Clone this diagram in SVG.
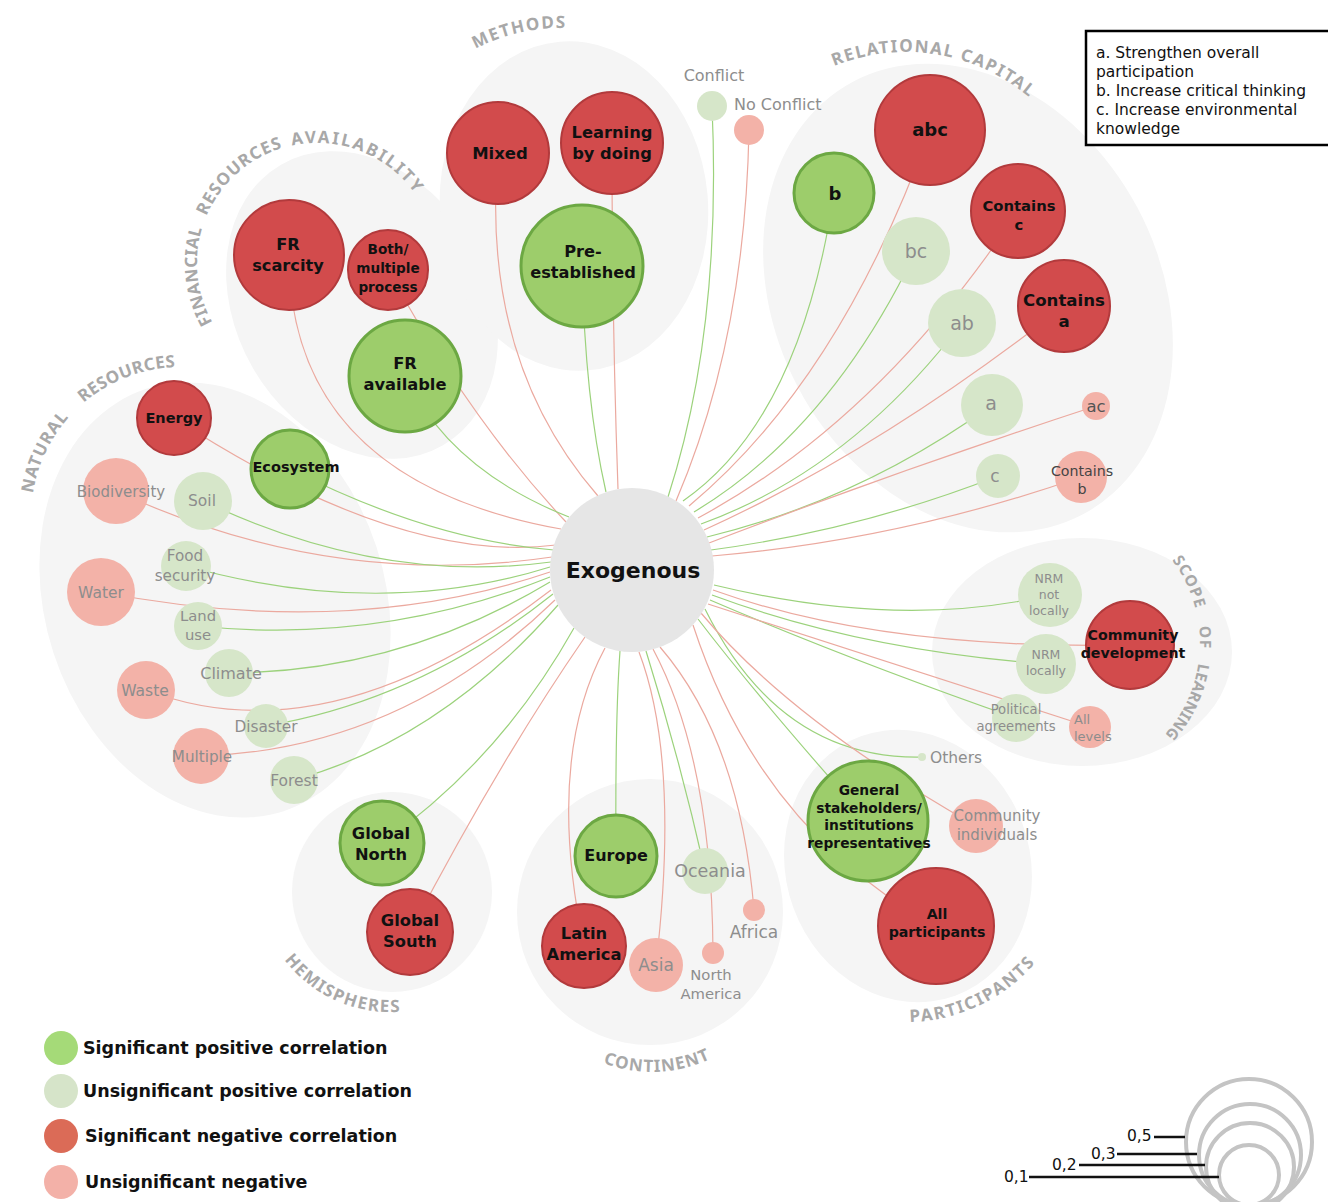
<svg xmlns="http://www.w3.org/2000/svg" width="1328" height="1202" viewBox="0 0 1328 1202">
<style>
.bg{fill:#f5f5f5}
.sp{fill:#9dcd6b;stroke:#6ca843;stroke-width:3}
.up{fill:#d6e6c9}
.sn{fill:#d24b4c;stroke:#b23a3c;stroke-width:2}
.un{fill:#f3b2a8}
.lg{fill:none;stroke:#9cd27c;stroke-width:1.2}
.lr{fill:none;stroke:#eba99f;stroke-width:1.2}
.t1{font-family:"DejaVu Sans","Noto Sans",sans-serif;font-weight:bold;fill:#111;text-anchor:middle}
.t2{font-family:"DejaVu Sans","Noto Sans",sans-serif;fill:#8d8d8d;text-anchor:middle}
.cat{font-family:"Noto Sans","Open Sans",sans-serif;font-weight:bold;fill:#a8a8a8;font-size:17px}
.lgd{font-family:"DejaVu Sans",sans-serif;font-weight:bold;font-size:17.5px;fill:#111}
.key{font-family:"DejaVu Sans",sans-serif;font-size:15.5px;fill:#111}
.sc{fill:none;stroke:#c4c4c4;stroke-width:4}
.tick{stroke:#111;stroke-width:2.5}
</style>
<defs>
<path id="pNR1" d="M32.8,493.5 A150,150 0 0 1 69.5,416.6"/>
<path id="pNR2" d="M83.6,402.9 A150,150 0 0 1 175.8,367.1"/>
<path id="pFR1" d="M212.6,322.3 A120,120 0 0 1 202.9,225.9"/>
<path id="pFR2" d="M206.5,216.1 A120,120 0 0 1 283.9,147.6"/>
<path id="pFR3" d="M292.1,145.6 A120,120 0 0 1 415.6,194.5"/>
<path id="pME" d="M475.4,48.9 A182,182 0 0 1 566,28.1"/>
<path id="pRC" d="M834.2,66.1 A190,190 0 0 1 1029.9,98"/>
<path id="pSL1" d="M1172,560 A137,137 0 0 1 1195.9,609.9"/>
<path id="pSL2" d="M1199,626.3 A137,137 0 0 1 1199.8,650.2"/>
<path id="pSL3" d="M1198.5,663.2 A137,137 0 0 1 1164.3,735.2"/>
<path id="pPA" d="M909.9,1022 A171,171 0 0 0 1036,962"/>
<path id="pCO" d="M603.1,1063 A137,137 0 0 0 712.1,1058.1"/>
<path id="pHE" d="M284.3,959.8 A133,133 0 0 0 402,1011.5"/>
</defs>
<rect width="1328" height="1202" fill="#fff"/>

<g id="groups">
<ellipse class="bg" cx="215" cy="600" rx="170" ry="222" transform="rotate(-18 215 600)"/>
<ellipse class="bg" cx="362" cy="305" rx="126" ry="162" transform="rotate(-30 362 305)"/>
<ellipse class="bg" cx="574" cy="206" rx="134" ry="165" transform="rotate(-5 574 206)"/>
<ellipse class="bg" cx="968" cy="298" rx="192" ry="245" transform="rotate(-28 968 298)"/>
<ellipse class="bg" cx="1082" cy="652" rx="150" ry="114"/>
<ellipse class="bg" cx="908" cy="866" rx="122" ry="138" transform="rotate(-20 908 866)"/>
<circle class="bg" cx="650" cy="912" r="133"/>
<circle class="bg" cx="392" cy="892" r="100"/>
</g>

<g id="category-labels" class="cat">
<text><textPath href="#pNR1" textLength="85" lengthAdjust="spacing">NATURAL</textPath></text>
<text><textPath href="#pNR2" textLength="100" lengthAdjust="spacing">RESOURCES</textPath></text>
<text><textPath href="#pFR1" textLength="97" lengthAdjust="spacing">FINANCIAL</textPath></text>
<text><textPath href="#pFR2" textLength="105" lengthAdjust="spacing">RESOURCES</textPath></text>
<text><textPath href="#pFR3" textLength="139" lengthAdjust="spacing">AVAILABILITY</textPath></text>
<text><textPath href="#pME" textLength="93" lengthAdjust="spacing">METHODS</textPath></text>
<text><textPath href="#pRC" textLength="207" lengthAdjust="spacing">RELATIONAL CAPITAL</textPath></text>
<text style="font-size:15.5px"><textPath href="#pSL1" textLength="54" lengthAdjust="spacing">SCOPE</textPath></text>
<text style="font-size:15.5px"><textPath href="#pSL2" textLength="22" lengthAdjust="spacing">OF</textPath></text>
<text style="font-size:15.5px"><textPath href="#pSL3" textLength="80" lengthAdjust="spacing">LEARNING</textPath></text>
<text><textPath href="#pPA" textLength="142" lengthAdjust="spacing">PARTICIPANTS</textPath></text>
<text><textPath href="#pCO" textLength="110" lengthAdjust="spacing">CONTINENT</textPath></text>
<text><textPath href="#pHE" textLength="132" lengthAdjust="spacing">HEMISPHERES</textPath></text>
</g>

<g id="connectors">
<path class="lr" d="M174,418 Q400,565 556,545"/>
<path class="lg" d="M290,469 Q430,540 554,550"/>
<path class="lr" d="M116,491 Q330,590 552,557"/>
<path class="lg" d="M203,501 Q380,585 551,562"/>
<path class="lg" d="M186,566 Q380,620 550,567"/>
<path class="lr" d="M101,592 Q350,640 550,572"/>
<path class="lg" d="M198,626 Q380,645 550,577"/>
<path class="lg" d="M229,673 Q400,672 550,582"/>
<path class="lr" d="M146,690 Q330,760 551,590"/>
<path class="lg" d="M266,726 Q420,700 553,594"/>
<path class="lr" d="M201,756 Q400,750 555,600"/>
<path class="lg" d="M294,780 Q440,740 558,605"/>
<path class="lr" d="M289,255 Q290,480 561,529"/>
<path class="lr" d="M388,270 Q470,420 566,522"/>
<path class="lg" d="M405,376 Q450,470 569,517"/>
<path class="lr" d="M498,153 Q480,360 598,496"/>
<path class="lr" d="M612,143 Q612,320 618,489"/>
<path class="lg" d="M582,266 Q585,400 606,492"/>
<path class="lg" d="M712,106 Q722,330 668,497"/>
<path class="lr" d="M749,130 Q745,340 676,501"/>
<path class="lg" d="M834,193 Q800,420 683,501"/>
<path class="lr" d="M930,130 Q840,380 689,506"/>
<path class="lg" d="M916,251 Q830,430 694,512"/>
<path class="lr" d="M1018,211 Q880,420 698,518"/>
<path class="lg" d="M962,323 Q850,470 701,524"/>
<path class="lr" d="M1064,306 Q880,450 704,530"/>
<path class="lg" d="M992,405 Q860,500 707,537"/>
<path class="lr" d="M1096,406 Q900,470 709,543"/>
<path class="lg" d="M998,476 Q860,530 711,550"/>
<path class="lr" d="M1081,477 Q900,540 712,556"/>
<path class="lg" d="M1050,595 Q900,630 714,585"/>
<path class="lr" d="M1130,645 Q880,650 713,590"/>
<path class="lg" d="M1046,664 Q860,650 712,595"/>
<path class="lg" d="M1016,718 Q850,660 710,600"/>
<path class="lr" d="M1090,727 Q850,650 708,604"/>
<path class="lg" d="M922,757 Q780,760 705,609"/>
<path class="lg" d="M868,821 Q760,700 698,619"/>
<path class="lr" d="M976,826 Q790,720 701,613"/>
<path class="lr" d="M936,926 Q760,830 693,625"/>
<path class="lg" d="M616,856 Q615,720 620,651"/>
<path class="lr" d="M584,946 Q545,760 605,648"/>
<path class="lg" d="M705,871 Q680,760 646,651"/>
<path class="lr" d="M656,965 Q680,760 639,652"/>
<path class="lr" d="M713,953 Q712,760 653,649"/>
<path class="lr" d="M754,910 Q740,740 660,647"/>
<path class="lg" d="M382,843 Q500,760 574,628"/>
<path class="lr" d="M410,932 Q500,760 585,637"/>
</g>

<g id="natural-resources">
<g id="n-energy"><circle class="sn" cx="174" cy="418" r="37"/><text class="t1" x="174" y="423" font-size="14.5">Energy</text></g>
<g id="n-ecosystem"><circle class="sp" cx="290" cy="469" r="39"/><text class="t1" x="296" y="472" font-size="14.5">Ecosystem</text></g>
<g id="n-biodiversity"><circle class="un" cx="116" cy="491" r="33"/><text class="t2" x="121" y="497" font-size="15">Biodiversity</text></g>
<g id="n-soil"><circle class="up" cx="203" cy="501" r="29"/><text class="t2" x="202" y="506" font-size="15.5">Soil</text></g>
<g id="n-food"><circle class="up" cx="186" cy="566" r="25"/><text class="t2" font-size="15.2"><tspan x="185" y="561">Food</tspan><tspan x="185" y="581">security</tspan></text></g>
<g id="n-water"><circle class="un" cx="101" cy="592" r="34"/><text class="t2" x="101" y="598" font-size="15.5">Water</text></g>
<g id="n-landuse"><circle class="up" cx="198" cy="626" r="24"/><text class="t2" font-size="14.8"><tspan x="198" y="621">Land</tspan><tspan x="198" y="640">use</tspan></text></g>
<g id="n-climate"><circle class="up" cx="229" cy="673" r="24"/><text class="t2" x="231" y="679" font-size="16">Climate</text></g>
<g id="n-waste"><circle class="un" cx="146" cy="690" r="29"/><text class="t2" x="145" y="696" font-size="15.5">Waste</text></g>
<g id="n-disaster"><circle class="up" cx="266" cy="726" r="22"/><text class="t2" x="266" y="732" font-size="15.3">Disaster</text></g>
<g id="n-multiple"><circle class="un" cx="201" cy="756" r="28"/><text class="t2" x="202" y="762" font-size="15.2">Multiple</text></g>
<g id="n-forest"><circle class="up" cx="294" cy="780" r="24"/><text class="t2" x="294" y="786" font-size="15.5">Forest</text></g>
</g>

<g id="financial">
<g id="n-frscarcity"><circle class="sn" cx="289" cy="255" r="55"/><text class="t1" font-size="16.2"><tspan x="288" y="250">FR</tspan><tspan x="288" y="271">scarcity</tspan></text></g>
<g id="n-both"><circle class="sn" cx="388" cy="270" r="40"/><text class="t1" font-size="13.6"><tspan x="388" y="254">Both/</tspan><tspan x="388" y="273">multiple</tspan><tspan x="388" y="292">process</tspan></text></g>
<g id="n-fravailable"><circle class="sp" cx="405" cy="376" r="56"/><text class="t1" font-size="16.3"><tspan x="405" y="369">FR</tspan><tspan x="405" y="390">available</tspan></text></g>
</g>

<g id="methods">
<g id="n-mixed"><circle class="sn" cx="498" cy="153" r="51"/><text class="t1" x="500" y="159" font-size="16.5">Mixed</text></g>
<g id="n-learning"><circle class="sn" cx="612" cy="143" r="51"/><text class="t1" font-size="16.3"><tspan x="612" y="138">Learning</tspan><tspan x="612" y="159">by doing</tspan></text></g>
<g id="n-preestablished"><circle class="sp" cx="582" cy="266" r="61"/><text class="t1" font-size="16.2"><tspan x="583" y="257">Pre-</tspan><tspan x="583" y="277.5">established</tspan></text></g>
</g>

<g id="conflict">
<g id="n-conflict"><circle class="up" cx="712" cy="106" r="15"/><text class="t2" x="714" y="81" font-size="16">Conflict</text></g>
<g id="n-noconflict"><circle class="un" cx="749" cy="130" r="15"/><text class="t2" x="734" y="110" font-size="16" style="text-anchor:start">No Conflict</text></g>
</g>

<g id="relational">
<g id="n-abc"><circle class="sn" cx="930" cy="130" r="55"/><text class="t1" x="930" y="136" font-size="18">abc</text></g>
<g id="n-b"><circle class="sp" cx="834" cy="193" r="40"/><text class="t1" x="835" y="200" font-size="18">b</text></g>
<g id="n-containsc"><circle class="sn" cx="1018" cy="211" r="47"/><text class="t1" font-size="14.8"><tspan x="1019" y="211">Contains</tspan><tspan x="1019" y="230">c</tspan></text></g>
<g id="n-bc"><circle class="up" cx="916" cy="251" r="34"/><text class="t2" x="916" y="258" font-size="19">bc</text></g>
<g id="n-ab"><circle class="up" cx="962" cy="323" r="34"/><text class="t2" x="962" y="330" font-size="19">ab</text></g>
<g id="n-containsa"><circle class="sn" cx="1064" cy="306" r="46"/><text class="t1" font-size="16.6"><tspan x="1064" y="306">Contains</tspan><tspan x="1064" y="327">a</tspan></text></g>
<g id="n-a"><circle class="up" cx="992" cy="405" r="31"/><text class="t2" x="991" y="410" font-size="19">a</text></g>
<g id="n-ac"><circle class="un" cx="1096" cy="406" r="14"/><text class="t2" x="1096" y="412" font-size="16.5" style="fill:#555">ac</text></g>
<g id="n-c"><circle class="up" cx="998" cy="476" r="22"/><text class="t2" x="995" y="482" font-size="17">c</text></g>
<g id="n-containsb"><circle class="un" cx="1081" cy="477" r="26"/><text class="t2" font-size="14.2" style="fill:#444"><tspan x="1082" y="476">Contains</tspan><tspan x="1082" y="494">b</tspan></text></g>
</g>

<g id="scope">
<g id="n-nrmnot"><circle class="up" cx="1050" cy="595" r="32"/><text class="t2" font-size="12.5"><tspan x="1049" y="583">NRM</tspan><tspan x="1049" y="599">not</tspan><tspan x="1049" y="615">locally</tspan></text></g>
<g id="n-community"><circle class="sn" cx="1130" cy="645" r="44"/><text class="t1" font-size="14.2"><tspan x="1133" y="640">Community</tspan><tspan x="1133" y="658">development</tspan></text></g>
<g id="n-nrmlocally"><circle class="up" cx="1046" cy="664" r="30"/><text class="t2" font-size="12.5"><tspan x="1046" y="659">NRM</tspan><tspan x="1046" y="675">locally</tspan></text></g>
<g id="n-political"><circle class="up" cx="1016" cy="718" r="24"/><text class="t2" font-size="13.2"><tspan x="1016" y="714">Political</tspan><tspan x="1016" y="731">agreements</tspan></text></g>
<g id="n-alllevels"><circle class="un" cx="1090" cy="727" r="21"/><text class="t2" font-size="13" style="text-anchor:start"><tspan x="1074" y="724">All</tspan><tspan x="1074" y="741">levels</tspan></text></g>
</g>

<g id="n-others"><circle class="up" cx="922" cy="757" r="4"/><text class="t2" x="930" y="763" font-size="15.5" style="text-anchor:start">Others</text></g>

<g id="participants">
<g id="n-general"><circle class="sp" cx="868" cy="821" r="60"/><text class="t1" font-size="13.8"><tspan x="869" y="795">General</tspan><tspan x="869" y="812.5">stakeholders/</tspan><tspan x="869" y="830">institutions</tspan><tspan x="869" y="847.5">representatives</tspan></text></g>
<g id="n-commind"><circle class="un" cx="976" cy="826" r="27"/><text class="t2" font-size="15"><tspan x="997" y="821">Community</tspan><tspan x="997" y="840">individuals</tspan></text></g>
<g id="n-allpart"><circle class="sn" cx="936" cy="926" r="58"/><text class="t1" font-size="14.2"><tspan x="937" y="919">All</tspan><tspan x="937" y="937">participants</tspan></text></g>
</g>

<g id="continent">
<g id="n-europe"><circle class="sp" cx="616" cy="856" r="41"/><text class="t1" x="616" y="861" font-size="16">Europe</text></g>
<g id="n-oceania"><circle class="up" cx="705" cy="871" r="23"/><text class="t2" x="710" y="877" font-size="17.5">Oceania</text></g>
<g id="n-africa"><circle class="un" cx="754" cy="910" r="11"/><text class="t2" x="754" y="938" font-size="17">Africa</text></g>
<g id="n-latam"><circle class="sn" cx="584" cy="946" r="42"/><text class="t1" font-size="16.3"><tspan x="584" y="939">Latin</tspan><tspan x="584" y="960">America</tspan></text></g>
<g id="n-asia"><circle class="un" cx="656" cy="965" r="27"/><text class="t2" x="656" y="971" font-size="17">Asia</text></g>
<g id="n-northam"><circle class="un" cx="713" cy="953" r="11"/><text class="t2" font-size="14.8"><tspan x="711" y="980">North</tspan><tspan x="711" y="999">America</tspan></text></g>
</g>

<g id="hemispheres">
<g id="n-gnorth"><circle class="sp" cx="382" cy="843" r="42"/><text class="t1" font-size="16.3"><tspan x="381" y="839">Global</tspan><tspan x="381" y="860">North</tspan></text></g>
<g id="n-gsouth"><circle class="sn" cx="410" cy="932" r="43"/><text class="t1" font-size="16.3"><tspan x="410" y="926">Global</tspan><tspan x="410" y="947">South</tspan></text></g>
</g>

<g id="n-exogenous"><circle cx="632" cy="570" r="82" fill="#e6e6e6"/><text class="t1" x="633" y="578" font-size="22">Exogenous</text></g>

<g id="key-box">
<rect x="1086" y="31" width="260" height="114" fill="#fff" stroke="#000" stroke-width="2.5"/>
<text class="key"><tspan x="1096" y="58">a. Strengthen overall</tspan><tspan x="1096" y="77">participation</tspan><tspan x="1096" y="96">b. Increase critical thinking</tspan><tspan x="1096" y="115">c. Increase environmental</tspan><tspan x="1096" y="134">knowledge</tspan></text>
</g>

<g id="legend">
<circle cx="61" cy="1048" r="17" fill="#a5da78"/><text class="lgd" x="83" y="1054">Significant positive correlation</text>
<circle cx="61" cy="1091" r="17" fill="#d6e4c9"/><text class="lgd" x="83" y="1097">Unsignificant positive correlation</text>
<circle cx="61" cy="1136" r="17" fill="#db6b57"/><text class="lgd" x="85" y="1142">Significant negative correlation</text>
<circle cx="61" cy="1182" r="17" fill="#f3b1a8"/><text class="lgd" x="85" y="1188">Unsignificant negative</text>
</g>

<g id="size-legend">
<circle class="sc" cx="1249" cy="1142" r="63"/>
<circle class="sc" cx="1250" cy="1155" r="51"/>
<circle class="sc" cx="1250" cy="1167" r="44"/>
<circle class="sc" cx="1249" cy="1175" r="30"/>
<line class="tick" x1="1154" y1="1137" x2="1185" y2="1137"/>
<line class="tick" x1="1117" y1="1154" x2="1197" y2="1154"/>
<line class="tick" x1="1079" y1="1165" x2="1205" y2="1165"/>
<line class="tick" x1="1029" y1="1177" x2="1219" y2="1177"/>
<text class="key" x="1127" y="1141">0,5</text>
<text class="key" x="1091" y="1159">0,3</text>
<text class="key" x="1052" y="1170">0,2</text>
<text class="key" x="1004" y="1182">0,1</text>
</g>
</svg>
